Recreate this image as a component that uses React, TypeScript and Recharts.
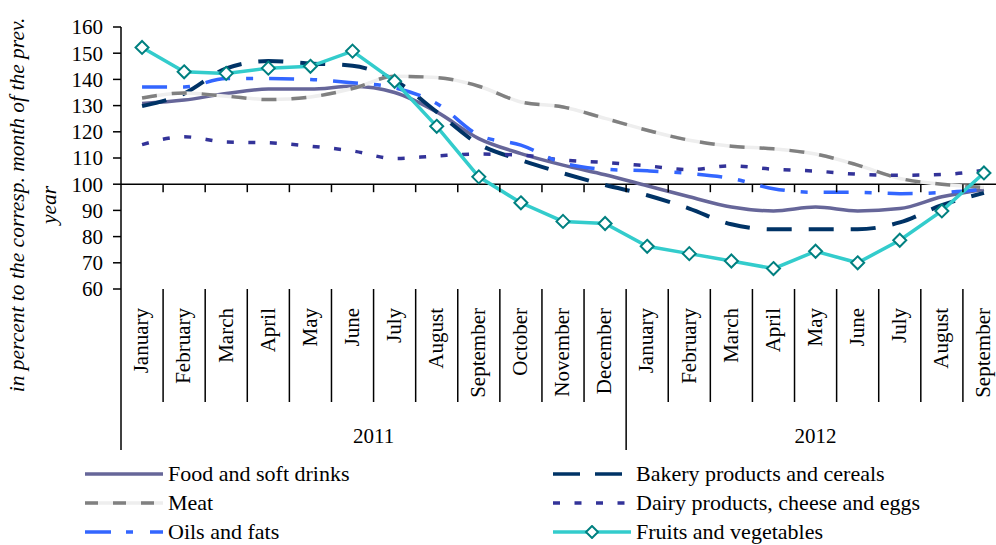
import React from 'react';
import { LineChart, Line, XAxis, YAxis, ReferenceLine } from 'recharts';

// categories: Jan 2011 .. Sep 2012
const MONTHS = [
  'January', 'February', 'March', 'April', 'May', 'June', 'July', 'August',
  'September', 'October', 'November', 'December',
  'January', 'February', 'March', 'April', 'May', 'June', 'July', 'August', 'September',
];
const YEARS = ['2011', '2012'];
const Y_TICKS = [60, 70, 80, 90, 100, 110, 120, 130, 140, 150, 160];

// in percent to the corresponding month of the previous year
const FOOD = [130.8, 132.1, 134.6, 136.3, 136.3, 137.4, 135.0, 127.6, 117.4, 111.7, 107.3, 103.6, 99.4, 95.2, 91.3, 89.8, 91.3, 89.8, 90.7, 95.2, 98.0];
const BAKERY = [129.8, 134.6, 144.2, 147.0, 146.1, 145.2, 139.7, 127.6, 115.3, 109.2, 104.2, 99.7, 95.8, 90.7, 84.7, 82.8, 82.8, 82.8, 85.4, 92.0, 96.7];
const MEAT = [132.9, 134.8, 133.6, 132.3, 133.3, 136.5, 141.2, 140.7, 137.4, 131.4, 129.5, 125.1, 120.6, 116.8, 114.5, 113.5, 111.5, 107.3, 102.2, 100.0, 98.7];
const DAIRY = [115.1, 118.1, 116.1, 115.8, 114.5, 112.7, 109.8, 110.8, 111.5, 111.1, 109.2, 108.3, 107.0, 105.6, 107.0, 105.7, 105.0, 103.8, 103.4, 103.7, 105.3];
const OILS = [137.1, 137.1, 140.3, 140.3, 140.0, 138.7, 136.8, 130.8, 118.7, 114.9, 108.1, 105.7, 105.1, 104.1, 102.2, 98.3, 96.9, 96.9, 96.4, 96.8, 98.0];
const FRUITS = [152.2, 142.9, 142.3, 144.3, 145.0, 150.8, 139.3, 122.1, 102.8, 92.9, 85.8, 85.0, 76.3, 73.5, 70.7, 67.8, 74.4, 70.0, 78.6, 89.8, 104.3];

const FONT = '"Liberation Serif", "Times New Roman", serif';

const CHART_W = 1010;
const CHART_H = 545;
const Y_AXIS_W = 60;
const MARGIN = { top: 27, right: 5, bottom: 95, left: 61 };
const PLOT_W = CHART_W - MARGIN.left - Y_AXIS_W - MARGIN.right;
const PLOT_H = 262;
const X_AXIS_H = CHART_H - MARGIN.top - PLOT_H - MARGIN.bottom;
const BAND = PLOT_W / MONTHS.length;

const data = MONTHS.map((m, i) => ({
  idx: i,
  month: m,
  food: FOOD[i],
  bakery: BAKERY[i],
  meat: MEAT[i],
  dairy: DAIRY[i],
  oils: OILS[i],
  fruits: FRUITS[i],
}));

const renderMonthTick = (props: any) => {
  const { x, y, payload } = props;
  const i = payload.value as number;
  const bx = x - BAND / 2;
  const y100 = y - PLOT_H * 0.4;
  const startOfYear = i === 0 || i === 12;
  return (
    <g key={`t-${i}`}>
      <line x1={bx} y1={y} x2={bx} y2={y + (startOfYear ? 161 : 113)} stroke="#000" strokeWidth={1.5} />
      {i > 0 && <line x1={bx} y1={y100} x2={bx} y2={y100 + 8} stroke="#000" strokeWidth={1.5} />}
      <text
        x={x}
        y={y + 19}
        dy="0.3em"
        transform={`rotate(-90 ${x} ${y + 19})`}
        textAnchor="end"
        fontSize={21}
        fontFamily={FONT}
        fill="#000"
      >
        {MONTHS[i]}
      </text>
      {i === 5 && (
        <text x={x + BAND / 2} y={y + 154} textAnchor="middle" fontSize={21} fontFamily={FONT} fill="#000">
          {YEARS[0]}
        </text>
      )}
      {i === 16 && (
        <text x={x} y={y + 154} textAnchor="middle" fontSize={21} fontFamily={FONT} fill="#000">
          {YEARS[1]}
        </text>
      )}
    </g>
  );
};

const renderDiamond = (props: any) => {
  const { cx, cy, index } = props;
  if (cx == null || cy == null) return <g key={`d-${index}`} />;
  const r = 6.5;
  return (
    <path
      key={`d-${index}`}
      d={`M${cx},${cy - r}L${cx + r},${cy}L${cx},${cy + r}L${cx - r},${cy}Z`}
      fill="#fff"
      stroke="#008080"
      strokeWidth={2}
    />
  );
};

const YLabel = () => (
  <text
    x={24}
    y={205}
    transform="rotate(-90 24 205)"
    textAnchor="middle"
    fontSize={21.5}
    fontStyle="italic"
    fontFamily={FONT}
    fill="#000"
  >
    <tspan x={24}>in percent to the corresp. month of the prev.</tspan>
    <tspan x={24} dy={32}>year</tspan>
  </text>
);

type LegendItem = { name: string; color: string; dash?: string; width: number; light?: boolean; diamond?: boolean };

const LEGEND_ITEMS: LegendItem[] = [
  { name: 'Food and soft drinks', color: '#666699', width: 3.5 },
  { name: 'Bakery products and cereals', color: '#003366', dash: '27 15', width: 3.5 },
  { name: 'Meat', color: '#808080', dash: '13 15', width: 3.5, light: true },
  { name: 'Dairy products, cheese and eggs', color: '#333399', dash: '7 14.5', width: 3.5 },
  { name: 'Oils and fats', color: '#3366FF', dash: '26 15 7 17', width: 3.5 },
  { name: 'Fruits and vegetables', color: '#33CCCC', width: 3.5, diamond: true },
];

const LegendSample = ({ item }: { item: LegendItem }) => (
  <svg width={80} height={14} style={{ display: 'block' }}>
    {item.light && <line x1={0} y1={7} x2={78} y2={7} stroke="#eeeeee" strokeWidth={item.width} />}
    <line x1={0} y1={7} x2={78} y2={7} stroke={item.color} strokeWidth={item.width} strokeDasharray={item.dash} />
    {item.diamond && <path d="M39,1L45,7L39,13L33,7Z" fill="#fff" stroke="#008080" strokeWidth={2} />}
  </svg>
);

const ChartLegend = () => (
  <div style={{ position: 'absolute', left: 0, top: 459, width: 996, fontFamily: FONT, fontSize: 22 }}>
    {LEGEND_ITEMS.map((item, i) => (
      <div
        key={item.name}
        style={{
          position: 'absolute',
          left: i % 2 === 0 ? 85 : 553,
          top: Math.floor(i / 2) * 29,
          height: 30,
          display: 'flex',
          alignItems: 'center',
          whiteSpace: 'nowrap',
          color: '#000',
        }}
      >
        <LegendSample item={item} />
        <span style={{ marginLeft: 3 }}>{item.name}</span>
      </div>
    ))}
  </div>
);

export default function App() {
  return (
    <div style={{ position: 'absolute', left: 0, top: 0, width: 996, height: 545, overflow: 'hidden', background: '#fff' }}>
      <LineChart width={CHART_W} height={CHART_H} data={data} margin={MARGIN}>
        <XAxis
          dataKey="idx"
          type="number"
          domain={[-0.5, MONTHS.length - 0.5]}
          ticks={MONTHS.map((_, i) => i)}
          interval={0}
          height={X_AXIS_H}
          axisLine={false}
          tickLine={false}
          tickSize={0}
          tickMargin={0}
          tick={renderMonthTick}
        />
        <YAxis
          type="number"
          domain={[60, 160]}
          ticks={Y_TICKS}
          interval={0}
          width={Y_AXIS_W}
          axisLine={{ stroke: '#000', strokeWidth: 1.5 }}
          tickLine={{ stroke: '#000', strokeWidth: 1.5 }}
          tickSize={8}
          tickMargin={10}
          tick={{ fontSize: 21, fontFamily: FONT, fill: '#000' }}
          label={{ content: () => <YLabel /> }}
        />
        <ReferenceLine y={100} stroke="#000" strokeWidth={1.5} />
        <Line type="monotone" dataKey="food" stroke="#666699" strokeWidth={3.5} dot={false} isAnimationActive={false} />
        <Line type="monotone" dataKey="bakery" stroke="#003366" strokeWidth={4} strokeDasharray="25 17" dot={false} isAnimationActive={false} />
        <Line type="monotone" dataKey="meat" stroke="#eeeeee" strokeWidth={3.5} dot={false} legendType="none" isAnimationActive={false} />
        <Line type="monotone" dataKey="meat" stroke="#808080" strokeWidth={3.5} strokeDasharray="15 15" dot={false} isAnimationActive={false} />
        <Line type="monotone" dataKey="dairy" stroke="#333399" strokeWidth={3.5} strokeDasharray="7 14.5" dot={false} isAnimationActive={false} />
        <Line type="monotone" dataKey="oils" stroke="#3366FF" strokeWidth={3.5} strokeDasharray="25 16 7 16" dot={false} isAnimationActive={false} />
        <Line type="linear" dataKey="fruits" stroke="#33CCCC" strokeWidth={3.5} dot={renderDiamond} activeDot={false} isAnimationActive={false} />
      </LineChart>
      <ChartLegend />
    </div>
  );
}
